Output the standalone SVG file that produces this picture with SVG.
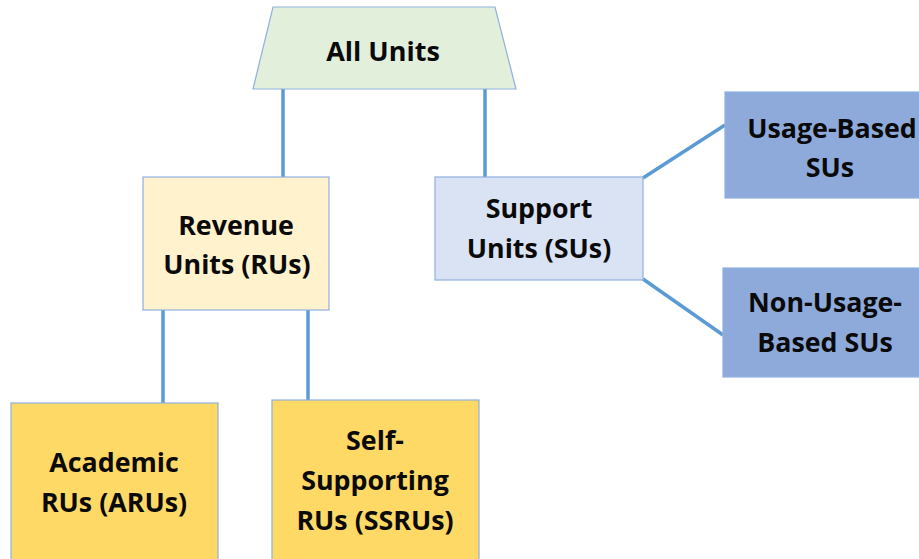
<svg xmlns="http://www.w3.org/2000/svg" width="919" height="559" viewBox="0 0 919 559">
<style>
.box{stroke:#8FB0E0;stroke-width:1.2}
.t{font-family:"Open Sans","Liberation Sans",sans-serif;font-weight:bold;font-size:26.8px;fill:#0a0a0a;text-anchor:middle}
.c{stroke:#5B9BD5;stroke-width:3.5;fill:none}
</style>
<rect width="919" height="559" fill="#fff"/>
<g id="connectors">
<line class="c" x1="283" y1="89" x2="283" y2="177"/>
<line class="c" x1="485" y1="89" x2="485" y2="178"/>
<line class="c" x1="163" y1="310" x2="163" y2="403"/>
<line class="c" x1="308" y1="310" x2="308" y2="400"/>
<line class="c" x1="643" y1="178" x2="725" y2="125"/>
<line class="c" x1="643" y1="279" x2="723" y2="335"/>
</g>
<g id="all-units">
<polygon class="box" points="273,7 495,7 516,89 253,89" fill="#E2EFDA"/>
<text class="t" x="383" y="61" style="font-size:27px">All Units</text>
</g>
<g id="revenue-units">
<rect class="box" x="143" y="177" width="186" height="133" fill="#FFF2CC"/>
<text class="t" x="236" y="235">Revenue</text>
<text class="t" x="237" y="274">Units (RUs)</text>
</g>
<g id="support-units">
<rect class="box" x="435" y="177" width="208" height="103" fill="#DAE3F3"/>
<text class="t" x="539" y="218">Support</text>
<text class="t" x="539" y="258">Units (SUs)</text>
</g>
<g id="usage-based">
<rect class="box" x="725" y="92" width="220" height="106" fill="#8EAADB"/>
<text class="t" x="832" y="138">Usage-Based</text>
<text class="t" x="830" y="177">SUs</text>
</g>
<g id="non-usage-based">
<rect class="box" x="723" y="268" width="220" height="109" fill="#8EAADB"/>
<text class="t" x="825" y="312">Non-Usage-</text>
<text class="t" x="825" y="352">Based SUs</text>
</g>
<g id="academic">
<rect class="box" x="11" y="403" width="207" height="170" fill="#FFD966"/>
<text class="t" x="114" y="472">Academic</text>
<text class="t" x="114" y="512">RUs (ARUs)</text>
</g>
<g id="self-supporting">
<rect class="box" x="272" y="400" width="207" height="170" fill="#FFD966"/>
<text class="t" x="375" y="450">Self-</text>
<text class="t" x="375" y="490">Supporting</text>
<text class="t" x="375" y="530">RUs (SSRUs)</text>
</g>
</svg>
